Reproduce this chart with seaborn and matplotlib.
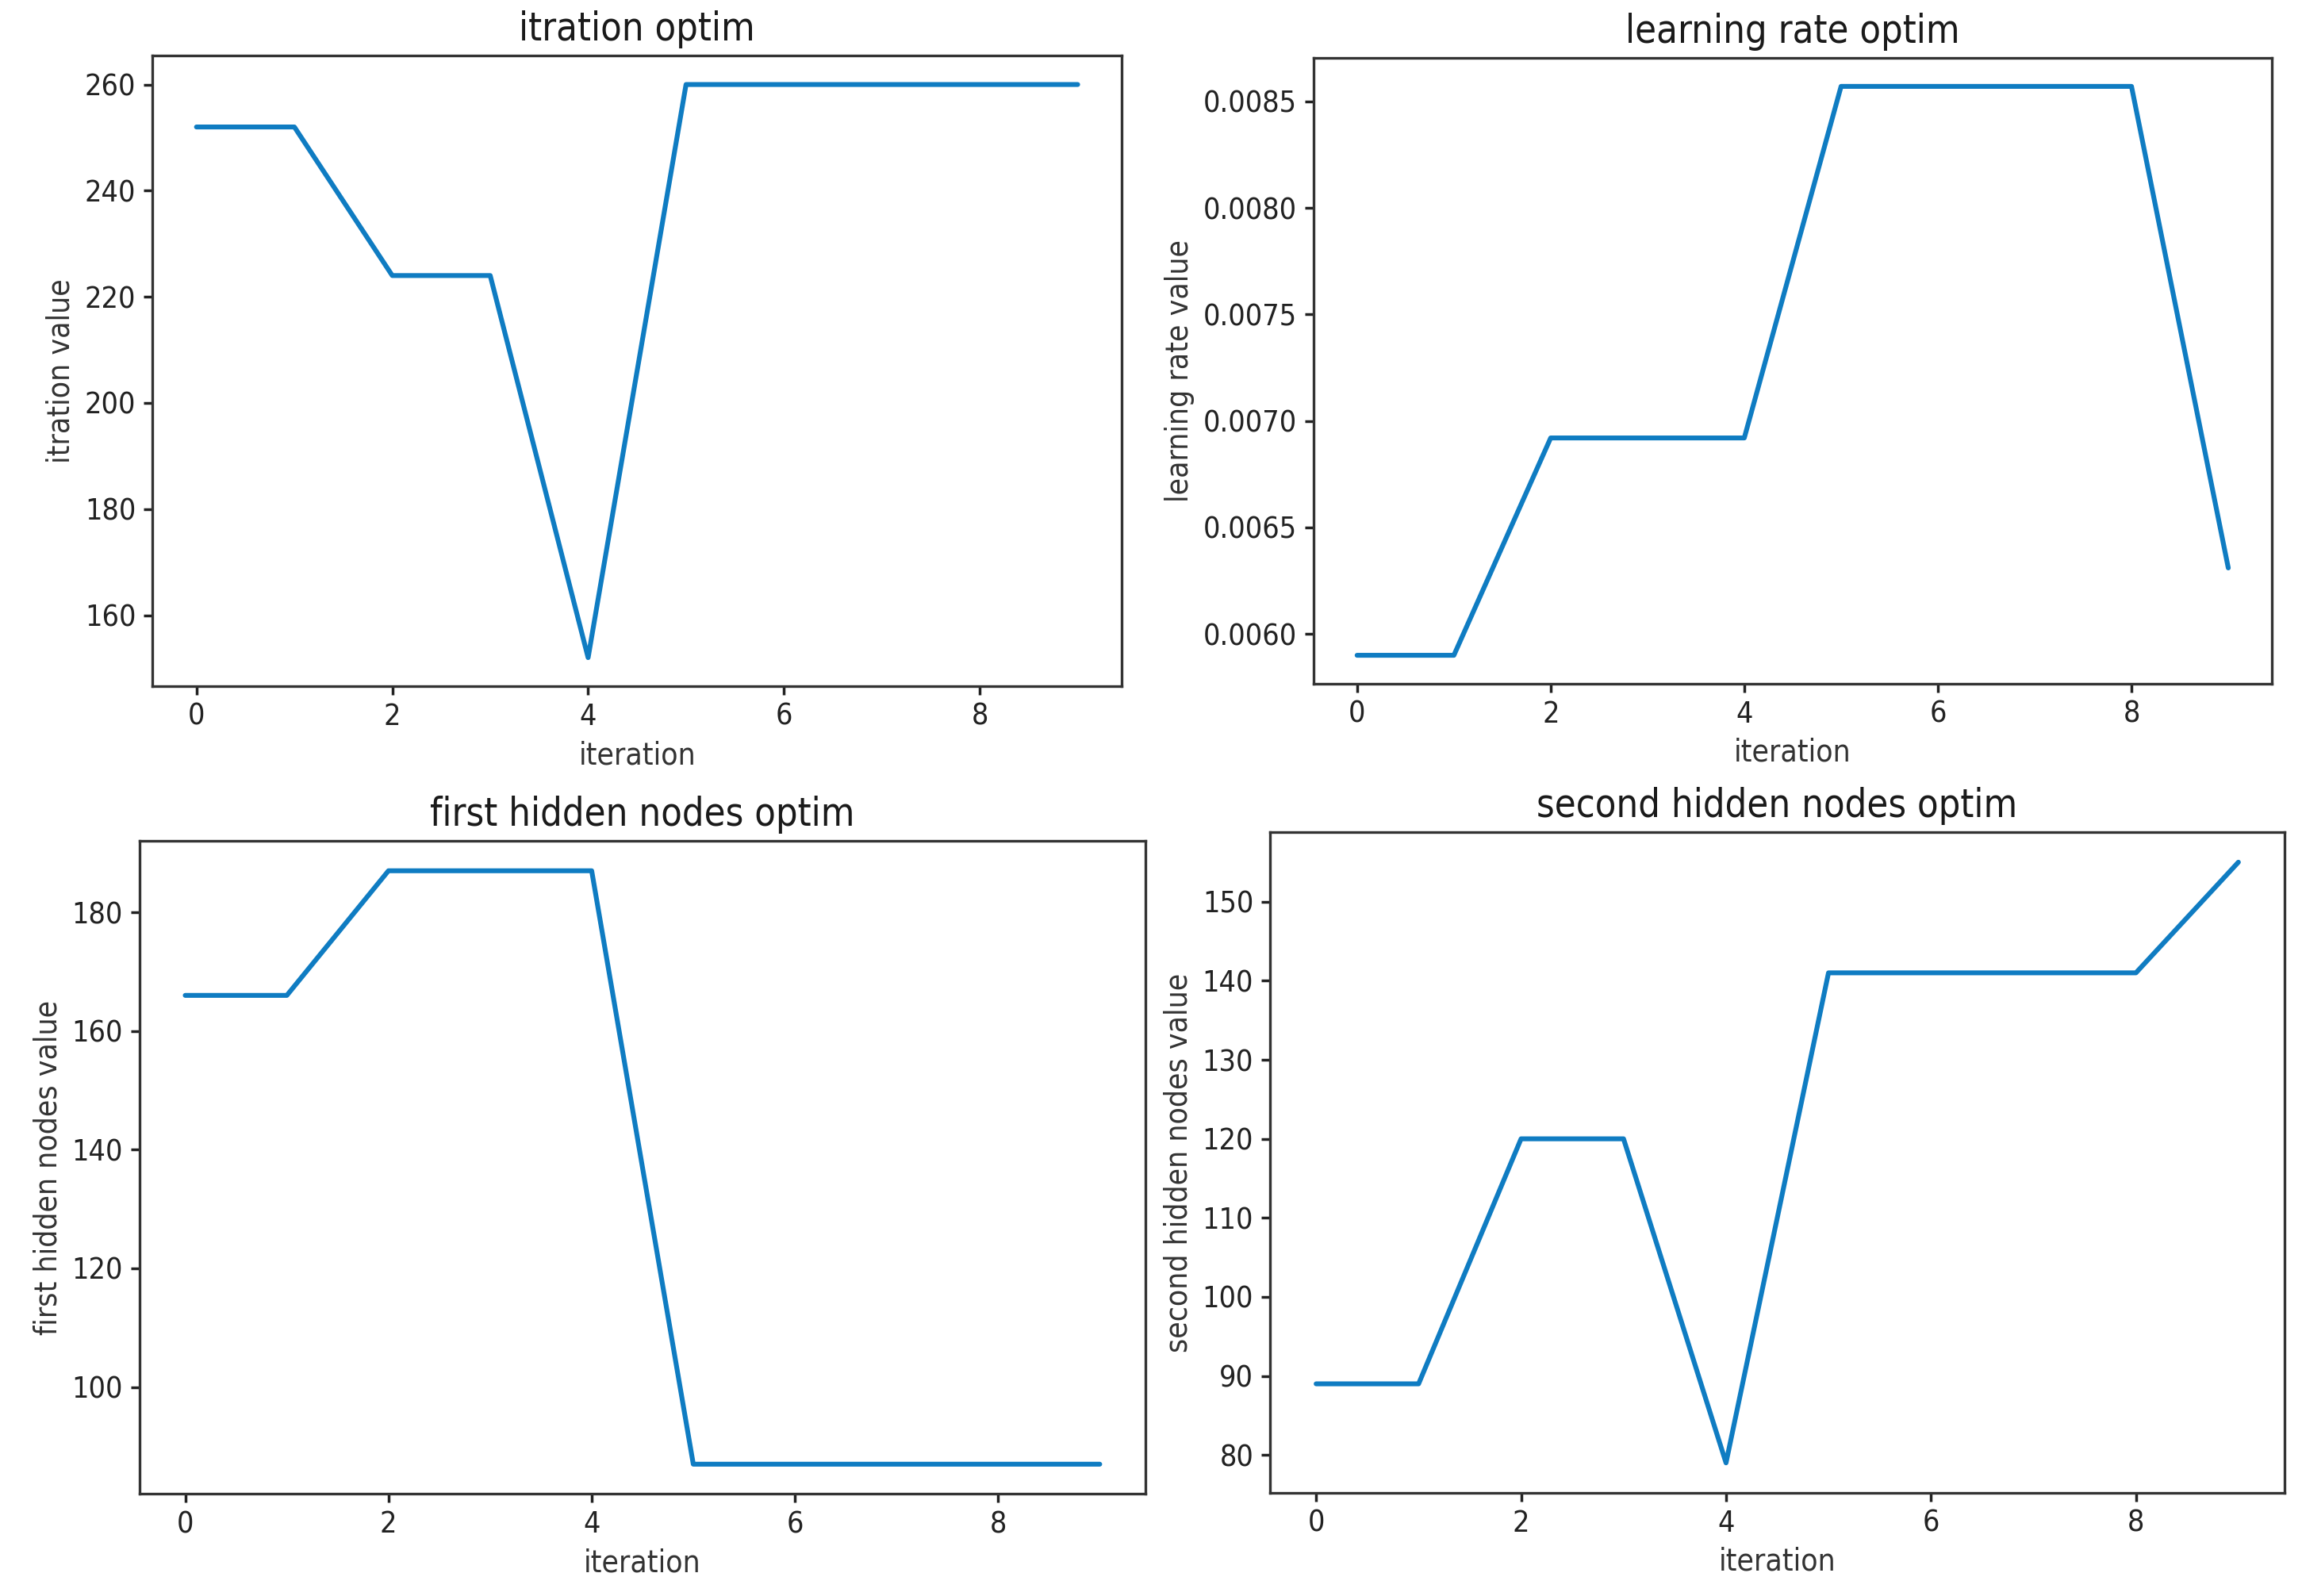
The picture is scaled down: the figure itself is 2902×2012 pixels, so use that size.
import numpy as np
import pandas as pd
import matplotlib
matplotlib.use('Agg')
import matplotlib.pyplot as plt
import seaborn as sns

sns.set_theme(style="ticks")
plt.rcParams['font.family'] = ['DejaVu Sans']

# values, one per iteration
iterations = list(range(10))
itration_vals = [252, 252, 224, 224, 152, 260, 260, 260, 260, 260]
lr_vals = [0.00590, 0.00590, 0.00692, 0.00692, 0.00692,
           0.00857, 0.00857, 0.00857, 0.00857, 0.00631]
first_hidden_vals = [166, 166, 187, 187, 187, 87, 87, 87, 87, 87]
second_hidden_vals = [89, 89, 120, 120, 79, 141, 141, 141, 141, 155]

titles = ['itration optim', 'learning rate optim',
          'first hidden nodes optim', 'second hidden nodes optim']
ylabels = ['itration value', 'learning rate value',
           'first hidden nodes value', 'second hidden nodes value']
series = [itration_vals, lr_vals, first_hidden_vals, second_hidden_vals]

# axes boxes [left, bottom, width, height] in figure fractions
boxes = [
    [0.0662, 0.570, 0.4211, 0.395],
    [0.5706, 0.5716, 0.4163, 0.3921],
    [0.0606, 0.064, 0.4370, 0.409],
    [0.5517, 0.0646, 0.4407, 0.414],
]

line_color = '#0f7cc2'

fig = plt.figure(figsize=(14.51, 10.06), dpi=200)

for box, title, ylab, vals in zip(boxes, titles, ylabels, series):
    ax = fig.add_axes(box)
    df = pd.DataFrame({'iteration': iterations, 'value': vals})
    sns.lineplot(data=df, x='iteration', y='value', ax=ax,
                 color=line_color, linewidth=2.2)
    ax.set_title(title, fontsize=17.5, color='#1a1a1a',
                 fontstretch='condensed', pad=7)
    ax.set_xlabel('iteration', fontsize=14, color='#333333',
                  fontstretch='condensed')
    ax.set_ylabel(ylab, fontsize=14, color='#333333',
                  fontstretch='condensed')
    ax.set_xticks([0, 2, 4, 6, 8])
    ax.tick_params(labelsize=13.5, colors='#222222', length=4)
    for lbl in ax.get_xticklabels() + ax.get_yticklabels():
        lbl.set_fontstretch('condensed')
    for sp in ax.spines.values():
        sp.set_color('#333333')
        sp.set_linewidth(1.2)

fig.savefig('out.png', dpi=200)
